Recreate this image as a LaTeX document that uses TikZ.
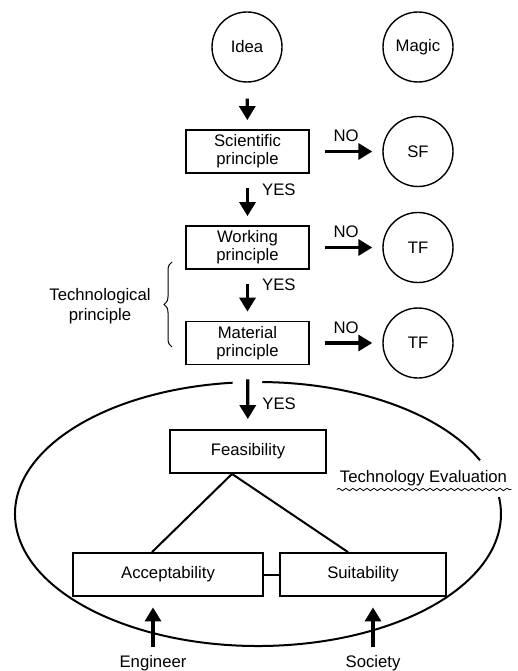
\documentclass[tikz,border=0pt]{standalone}
\usepackage{fontspec}
\setmainfont{Liberation Sans}
\usetikzlibrary{arrows.meta,decorations.pathreplacing,decorations.pathmorphing}

\begin{document}
\begin{tikzpicture}[x=1pt, y=1pt, >={Triangle[length=14pt,width=16pt]}]
		\useasboundingbox (0,0) rectangle (517,-671);
		\tikzstyle{every node} = [font=\fontsize{16.7}{18}\selectfont, align=center, inner sep=0pt]
		\tikzstyle{bubble} = [circle, draw, line width=1.4pt, minimum size=70pt]
		\tikzstyle{box} = [rectangle, draw, line width=1.8pt, minimum width=123pt, minimum height=43pt]
		\tikzstyle{go} = [->, line width=3.3pt]

		\node[bubble] (idea) at (247,-47) {Idea};
		\node[bubble] (magic) at (418,-47) {Magic};
		\node[box] (sci) at (247.5,-151.5) {Scientific\\principle};
		\node[box] (work) at (247.5,-247.5) {Working\\principle};
		\node[box] (mat) at (247.5,-343) {Material\\principle};
		\node[bubble] (sf) at (418,-151.5) {SF};
		\node[bubble] (tf1) at (418,-247.5) {TF};
		\node[bubble] (tf2) at (418,-343) {TF};
		\node[box, minimum width=156pt] (feas) at (248,-451.5) {Feasibility};
		\node[box, minimum width=190pt] (acc) at (168,-574.5) {Acceptability};
		\node[box, minimum width=166pt] (suit) at (363,-574.5) {Suitability};
		\node (eng) at (153,-663) {Engineer};
		\node (soc) at (373,-663) {Society};
		\node (eval) at (423.5,-478) {Technology Evaluation};
		\node[font=\fontsize{16.7}{20}\selectfont] (tp) at (100,-306.5) {Technological\\principle};

		% main line
		\draw[go, shorten <=16pt, shorten >=9pt] (idea) -- (sci);
		\draw[go, shorten <=14pt, shorten >=9pt] (sci) -- node[pos=.3, right=13pt] {YES} (work);
		\draw[go, shorten <=14pt, shorten >=9pt] (work) -- node[pos=.3, right=13pt] {YES} (mat);
		\draw[go, shorten <=14pt, shorten >=10pt] (mat) -- node[pos=.6, right=13pt] {YES} (feas);

		% failures
		\draw[go, shorten <=15pt, shorten >=10pt] (sci) -- node[above=8pt] {NO} (sf);
		\draw[go, shorten <=15pt, shorten >=10pt] (work) -- node[above=8pt] {NO} (tf1);
		\draw[go, shorten <=15pt, shorten >=10pt] (mat) -- node[above=8pt] {NO} (tf2);

		\draw[decorate, decoration={brace, amplitude=8pt}, line width=1pt] (172,-347) -- (172,-262);

		% evaluation
		\draw[line width=2pt] (258,-514) ++(96:243 and 132) arc[start angle=96, end angle=367.4, x radius=243, y radius=132];
		\draw[line width=2pt] (258,-514) ++(24:243 and 132) arc[start angle=24, end angle=89, x radius=243, y radius=132];
		\draw[decorate, decoration={snake, segment length=7pt, amplitude=1.2pt}, line width=.8pt]
			([xshift=-3pt, yshift=-3.5pt]eval.south west) -- ([xshift=4pt, yshift=-3.5pt]eval.south east);

		\draw[line width=2pt] ([xshift=-16pt]feas.south) -- ([xshift=-16pt]acc.north);
		\draw[line width=2pt] ([xshift=-16pt]feas.south) -- ([xshift=-15pt]suit.north);
		\draw[line width=2pt] (acc) -- (suit);
		\draw[go, shorten <=8pt, shorten >=10.5pt] (eng) -- (eng |- acc.south);
		\draw[go, shorten <=8pt, shorten >=10.5pt] (soc) -- (soc |- suit.south);
\end{tikzpicture}
\end{document}
